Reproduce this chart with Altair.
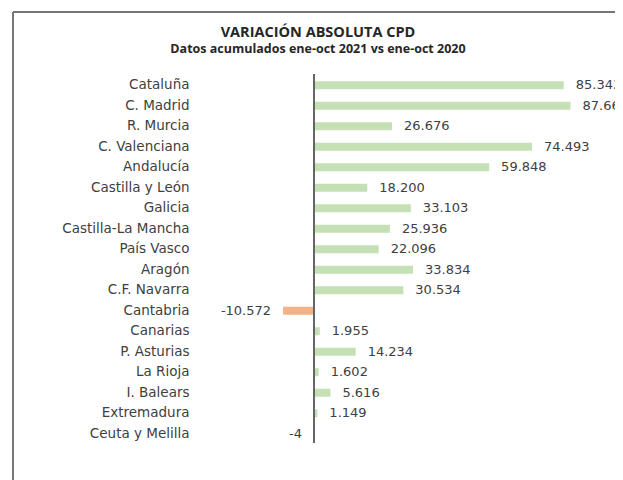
import altair as alt
import pandas as pd

regiones = ["Cataluña", "C. Madrid", "R. Murcia", "C. Valenciana", "Andalucía",
            "Castilla y León", "Galicia", "Castilla-La Mancha", "País Vasco", "Aragón",
            "C.F. Navarra", "Cantabria", "Canarias", "P. Asturias", "La Rioja",
            "I. Balears", "Extremadura", "Ceuta y Melilla"]
valores = [85343, 87661, 26676, 74493, 59848, 18200, 33103, 25936, 22096, 33834,
           30534, -10572, 1955, 14234, 1602, 5616, 1149, -4]

def fmt(v):
    return f"{v:,}".replace(",", ".")

df = pd.DataFrame({"region": regiones, "valor": valores,
                   "etiqueta": [fmt(v) for v in valores]})

W, H = 602, 468
TXT = "#404040"
FONT = "DejaVu Sans"

xscale = alt.Scale(domain=[0, 100000], range=[301, 593.6], nice=False, zero=False)
yscale = alt.Scale(range=[63, 432], paddingInner=0.61, paddingOuter=0.305)

base = alt.Chart(df)

y_enc = alt.Y("region:N", sort=None, scale=yscale,
              axis=alt.Axis(title=None, ticks=False, tickSize=0, domain=False,
                            labelPadding=0, offset=-176, labelFont=FONT,
                            labelFontSize=13.5, labelColor=TXT, grid=False))

bars = base.mark_bar().encode(
    y=y_enc,
    x=alt.X("valor:Q", scale=xscale, axis=None),
    x2=alt.datum(0),
    color=alt.condition(alt.datum.valor < 0, alt.value("#F4B183"), alt.value("#C5E0B4")),
)

pos = base.transform_filter(alt.datum.valor >= 0).mark_text(
    align="left", baseline="middle", dx=12, font=FONT, fontSize=13, color=TXT
).encode(y=alt.Y("region:N", sort=regiones, scale=yscale), x=alt.X("valor:Q", scale=xscale), text="etiqueta:N")

neg = base.transform_filter(alt.datum.valor < 0).mark_text(
    align="right", baseline="middle", dx=-12, font=FONT, fontSize=13, color=TXT
).encode(y=alt.Y("region:N", sort=regiones, scale=yscale), x=alt.X("valor:Q", scale=xscale), text="etiqueta:N")

zero = alt.Chart(df).mark_rule(color="#666666", strokeWidth=1.6).encode(
    x=alt.datum(0), y=alt.value(62), y2=alt.value(431))

border_top = alt.Chart(df).mark_rule(color="#767676", strokeWidth=1.5).encode(
    x=alt.value(0), x2=alt.value(W), y=alt.value(0))
border_left = alt.Chart(df).mark_rule(color="#767676", strokeWidth=1.5).encode(
    x=alt.value(0), y=alt.value(0), y2=alt.value(H))

chart = alt.layer(bars, zero, pos, neg, border_top, border_left).properties(
    width=W, height=H,
    autosize=alt.AutoSizeParams(type="none"),
    padding={"left": 5, "top": 4, "right": 0, "bottom": 0},
    title=alt.TitleParams(
        text="VARIACIÓN ABSOLUTA CPD",
        subtitle="Datos acumulados ene-oct 2021 vs ene-oct 2020",
        anchor="middle", frame="group", offset=-45, dx=4,
        font="Open Sans", fontSize=14.5, fontWeight="bold", color="#262626",
        subtitleFont="Open Sans", subtitleFontSize=12.5, subtitleFontWeight="bold",
        subtitleColor="#262626", subtitlePadding=2,
    ),
).configure_view(stroke=None)

chart.save("out.html", embed_options={"renderer": "svg", "actions": False})
